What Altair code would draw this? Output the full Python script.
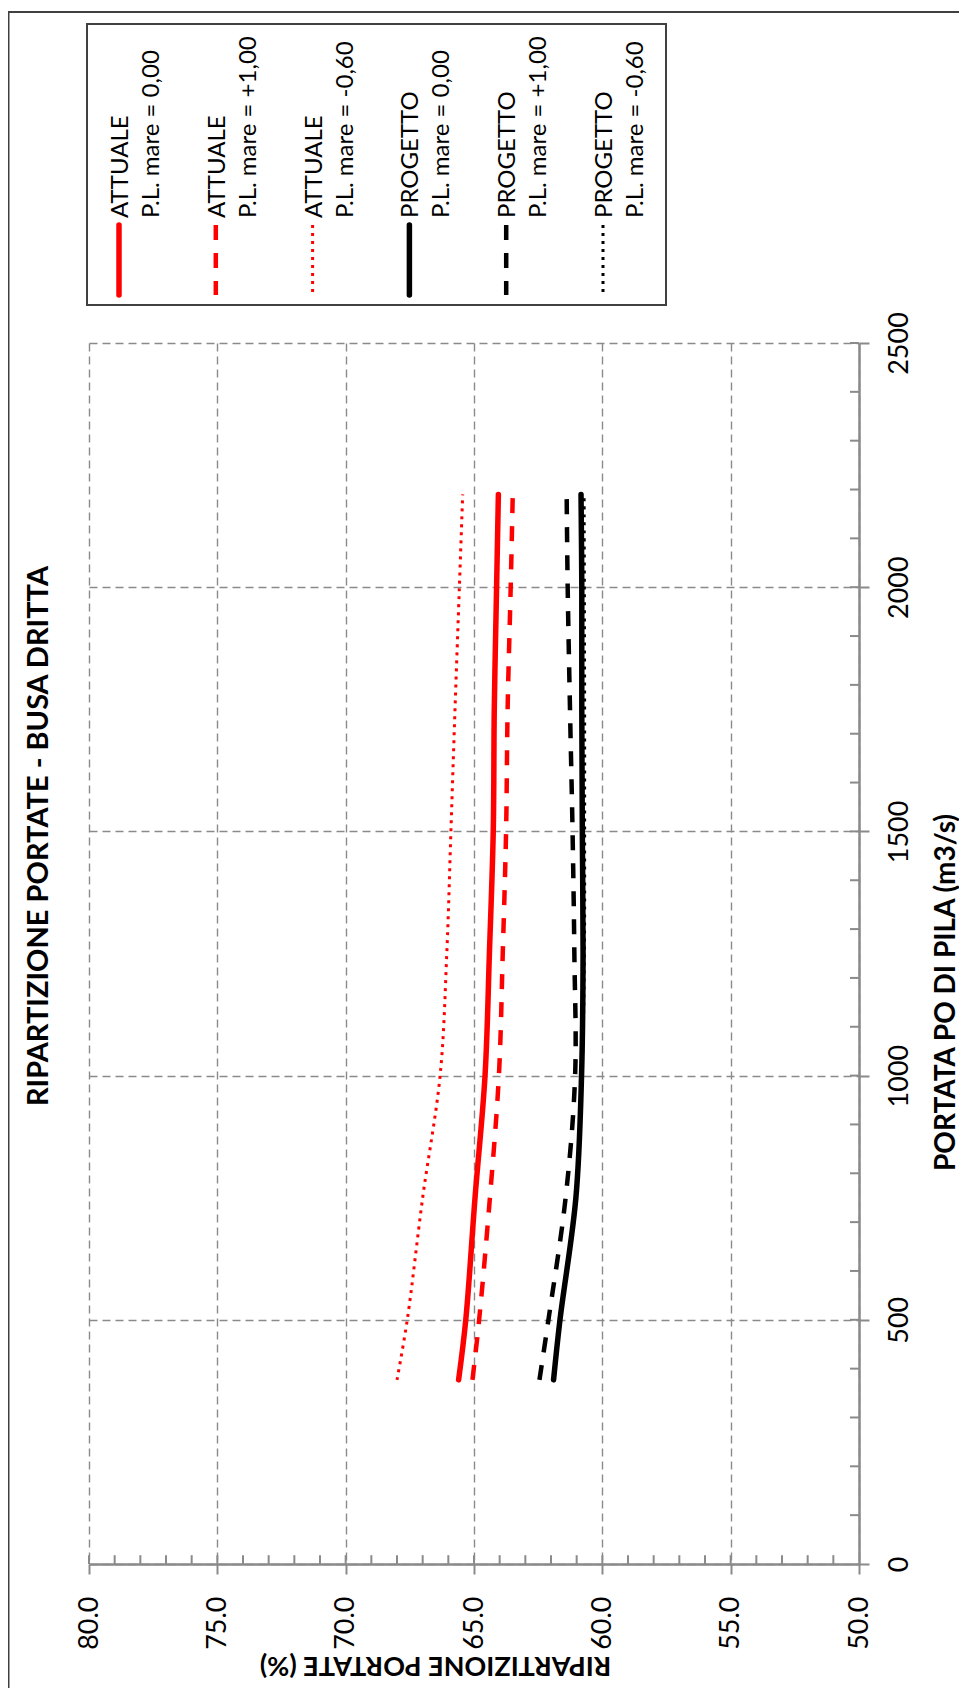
import altair as alt
import pandas as pd

# ---- data ----
portata = [377, 500, 750, 1000, 1250, 1500, 1750, 2000, 2190]
attuale_000 = [65.60, 65.32, 64.96, 64.57, 64.40, 64.25, 64.21, 64.12, 64.05]
attuale_p100 = [65.06, 64.80, 64.38, 64.03, 63.88, 63.75, 63.69, 63.57, 63.49]
attuale_m060 = [68.00, 67.60, 67.00, 66.32, 66.06, 65.90, 65.74, 65.57, 65.44]
progetto_000 = [61.90, 61.65, 61.03, 60.81, 60.75, 60.78, 60.80, 60.80, 60.83]
progetto_p100 = [62.45, 62.10, 61.43, 61.06, 61.09, 61.16, 61.26, 61.35, 61.39]
progetto_m060 = [61.90, 61.65, 61.03, 60.79, 60.70, 60.69, 60.69, 60.70, 60.71]

legend_line1 = ["ATTUALE", "ATTUALE", "ATTUALE", "PROGETTO", "PROGETTO", "PROGETTO"]
legend_line2 = ["P.L. mare = 0,00", "P.L. mare = +1,00", "P.L. mare = -0,60",
                "P.L. mare = 0,00", "P.L. mare = +1,00", "P.L. mare = -0,60"]
x_ticks = [80, 75, 70, 65, 60, 55, 50]
y_ticks = [0, 500, 1000, 1500, 2000, 2500]
chart_title = "RIPARTIZIONE PORTATE - BUSA DRITTA"
x_title = "RIPARTIZIONE PORTATE (%)"
y_title = "PORTATA PO DI PILA (m3/s)"

series_values = [attuale_000, attuale_p100, attuale_m060,
                 progetto_000, progetto_p100, progetto_m060]

W, H = 770, 1221
GRID = "#8a8a8a"
FONT = "Lato"

styles = [
    dict(color="#FF0000", strokeWidth=5.5, strokeCap="round"),
    dict(color="#FF0000", strokeWidth=4.5, strokeDash=[15, 13]),
    dict(color="#FF0000", strokeWidth=3, strokeDash=[3, 5]),
    dict(color="#000000", strokeWidth=5.5, strokeCap="round"),
    dict(color="#000000", strokeWidth=4.5, strokeDash=[15, 13]),
    dict(color="#000000", strokeWidth=3, strokeDash=[3, 5]),
]

x_scale = alt.Scale(domain=[50, 80], reverse=True, nice=False, zero=False)
y_scale = alt.Scale(domain=[0, 2500], nice=False, zero=False)

x_axis = alt.Axis(
    values=x_ticks, format=".1f", title=x_title, orient="bottom",
    grid=True, gridDash=[8, 5], gridColor=GRID, gridWidth=1.4,
    domainColor=GRID, domainWidth=2.5, tickColor=GRID, tickWidth=2, tickSize=10,
    labelAngle=270, labelAlign="right", labelBaseline="middle", labelPadding=22,
    labelFont=FONT, labelFontSize=27, labelColor="#000000",
    labelFlush=False, labelOverlap=False,
    titleFont=FONT, titleFontSize=27, titleFontWeight="bold", titleColor="#000000",
    titleAngle=180, titleAlign="center", titleBaseline="middle",
    titleX=346, titleY=100,
)
y_axis = alt.Axis(
    values=y_ticks, format="d", title=y_title, orient="right",
    grid=True, gridDash=[8, 5], gridColor=GRID, gridWidth=1.4,
    domainColor=GRID, domainWidth=2.5, tickColor=GRID, tickWidth=2, tickSize=10,
    labelAngle=270, labelAlign="center", labelBaseline="top", labelPadding=17,
    labelFont=FONT, labelFontSize=27, labelColor="#000000",
    labelFlush=False, labelOverlap=False,
    titleFont=FONT, titleFontSize=28, titleFontWeight="bold", titleColor="#000000",
    titleAngle=270, titleAlign="center", titleBaseline="middle",
    titleX=87, titleY=649,
)

X = alt.X("ripartizione:Q", scale=x_scale, axis=x_axis)
Y = alt.Y("portata:Q", scale=y_scale, axis=y_axis)

# inside minor ticks
minor_x = pd.DataFrame({"ripartizione": list(range(51, 81)), "portata": 0, "portata2": 18})
minor_y = pd.DataFrame({"portata": list(range(100, 2501, 100)), "ripartizione": 50, "ripartizione2": 50.35})

layers = [
    alt.Chart(minor_x).mark_rule(color=GRID, strokeWidth=2).encode(x=X, y=Y, y2="portata2:Q"),
    alt.Chart(minor_y).mark_rule(color=GRID, strokeWidth=2).encode(x=X, x2="ripartizione2:Q", y=Y),
]
draw_order = [2, 1, 0, 5, 4, 3]
for i in draw_order:
    df = pd.DataFrame({"portata": portata, "ripartizione": series_values[i]})
    layers.append(
        alt.Chart(df).mark_line(interpolate="catmull-rom", **styles[i]).encode(
            x=X, y=Y, order="portata:Q")
    )
main = alt.layer(*layers)

# legend, frame and title
LX = alt.X("idx:Q", scale=alt.Scale(domain=[0, 5], range=[30, 514], nice=False, zero=False), axis=None)
one = pd.DataFrame({"k": [0]})
leg_layers = [
    alt.Chart(one).mark_rect(fill="white", stroke="#404040", strokeWidth=2).encode(
        x=alt.value(-2), x2=alt.value(577), y=alt.value(-319), y2=alt.value(-38)),
    alt.Chart(one).mark_rule(color="#404040", strokeWidth=2).encode(
        x=alt.value(-80.5), y=alt.value(-331), y2=alt.value(1400)),
    alt.Chart(one).mark_rule(color="#404040", strokeWidth=2).encode(
        x=alt.value(-81.5), x2=alt.value(900), y=alt.value(-331)),
]
for i in range(6):
    d = pd.DataFrame({"idx": [i]})
    leg_layers.append(
        alt.Chart(d).mark_rule(**styles[i]).encode(x=LX, y=alt.value(-118), y2=alt.value(-48))
    )
leg_df = pd.DataFrame({"idx": list(range(6)), "l1": legend_line1, "l2": legend_line2})
leg_layers.append(
    alt.Chart(leg_df).mark_text(angle=270, align="left", baseline="middle", font=FONT,
                                fontSize=24, color="#000000", dy=2).encode(
        x=LX, y=alt.value(-125), text="l1:N")
)
leg_layers.append(
    alt.Chart(leg_df).mark_text(angle=270, align="left", baseline="middle", font=FONT,
                                fontSize=24, color="#000000", dy=33).encode(
        x=LX, y=alt.value(-125), text="l2:N")
)
leg_layers.append(
    alt.Chart(pd.DataFrame({"t": [chart_title]})).mark_text(
        angle=270, align="center", baseline="middle", font=FONT, fontSize=29,
        fontWeight="bold", color="#000000").encode(
        x=alt.value(-50), y=alt.value(493), text="t:N")
)
legend = alt.layer(*leg_layers)

chart = alt.layer(main, legend).resolve_scale(x="independent", y="independent").properties(
    width=W, height=H,
    autosize=alt.AutoSizeParams(type="none"),
    padding={"left": 81, "top": 335, "right": 100, "bottom": 124},
    background="white",
).configure_view(strokeWidth=0)

chart.save("out.html", embed_options={"renderer": "svg", "actions": False})
